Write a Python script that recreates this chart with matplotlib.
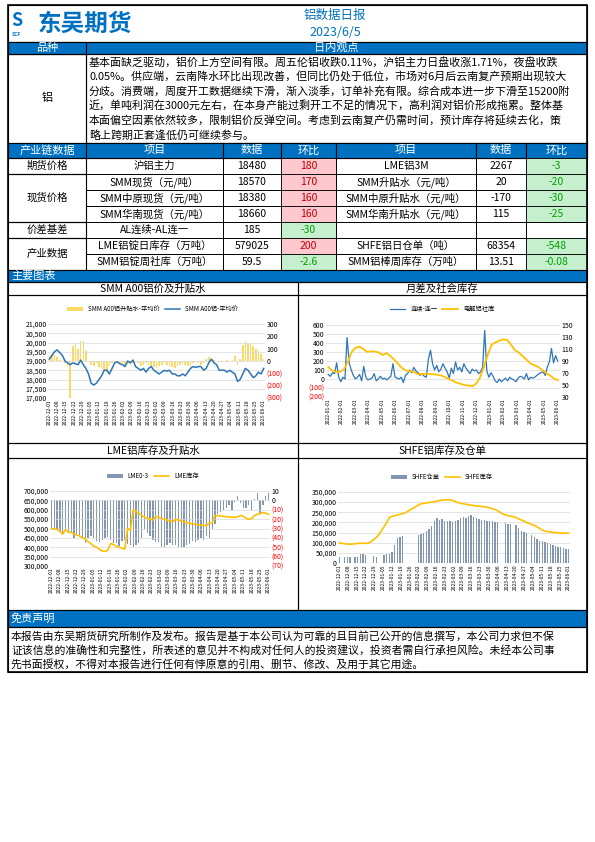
import numpy as np
import matplotlib
matplotlib.use("Agg")
import matplotlib.pyplot as plt
from matplotlib.patches import Rectangle

plt.rcParams['font.family'] = ['Noto Sans CJK SC', 'DejaVu Sans']

W, H = 595, 842
BLUE = '#0070C0'
fig = plt.figure(figsize=(W/100, H/100), dpi=100)

def fx(x): return x / W
def fy(y): return 1 - y / H

def rect(x0, y0, x1, y1, fc='none', ec='black', lw=0.8, z=1):
    fig.add_artist(Rectangle((fx(x0), fy(y1)), fx(x1) - fx(x0), fy(y0) - fy(y1),
                             transform=fig.transFigure, fc=fc, ec=ec, lw=lw, zorder=z))

def txt(x, y, s, size=7, color='black', ha='center', va='center', **kw):
    fig.text(fx(x), fy(y), s, fontsize=size, color=color, ha=ha, va=va, **kw)

# ---------------- data ----------------
report_title = "铝数据日报"
report_date = "2023/6/5"
view_text = ["基本面缺乏驱动，铝价上方空间有限。周五伦铝收跌0.11%，沪铝主力日盘收涨1.71%，夜盘收跌",
             "0.05%。供应端，云南降水环比出现改善，但同比仍处于低位，市场对6月后云南复产预期出现较大",
             "分歧。消费端，周度开工数据继续下滑，渐入淡季，订单补充有限。综合成本进一步下滑至15200附",
             "近，单吨利润在3000元左右，在本身产能过剩开工不足的情况下，高利润对铝价形成拖累。整体基",
             "本面偏空因素依然较多，限制铝价反弹空间。考虑到云南复产仍需时间，预计库存将延续去化，策",
             "略上跨期正套逢低仍可继续参与。"]
table_header = ["产业链数据", "项目", "数据", "环比", "项目", "数据", "环比"]
row_groups = ["期货价格", "现货价格", "价差基差", "产业数据"]
left_items = ["沪铝主力", "SMM现货（元/吨）", "SMM中原现货（元/吨）", "SMM华南现货（元/吨）",
              "AL连续-AL连一", "LME铝锭日库存（万吨）", "SMM铝锭周社库（万吨）"]
left_vals = ["18480", "18570", "18380", "18660", "185", "579025", "59.5"]
left_chg = [180, 170, 160, 160, -30, 200, -2.6]
right_items = ["LME铝3M", "SMM升贴水（元/吨）", "SMM中原升贴水（元/吨）", "SMM华南升贴水（元/吨）",
               "", "SHFE铝日仓单（吨）", "SMM铝棒周库存（万吨）"]
right_vals = ["2267", "20", "-170", "115", "", "68354", "13.51"]
right_chg = [-3, -20, -30, -25, None, -548, -0.08]
disclaimer = ["本报告由东吴期货研究所制作及发布。报告是基于本公司认为可靠的且目前已公开的信息撰写，本公司力求但不保",
              "证该信息的准确性和完整性，所表述的意见并不构成对任何人的投资建议，投资者需自行承担风险。未经本公司事",
              "先书面授权，不得对本报告进行任何有悖原意的引用、删节、修改、及用于其它用途。"]

weekly_labels = ["2022-12-01", "2022-12-08", "2022-12-15", "2022-12-22", "2022-12-29", "2023-01-05",
                 "2023-01-12", "2023-01-19", "2023-01-26", "2023-02-02", "2023-02-09", "2023-02-16",
                 "2023-02-23", "2023-03-02", "2023-03-09", "2023-03-16", "2023-03-23", "2023-03-30",
                 "2023-04-06", "2023-04-13", "2023-04-20", "2023-04-27", "2023-05-04", "2023-05-11",
                 "2023-05-18", "2023-05-25", "2023-06-01"]
monthly_labels = ["2022-01-01", "2022-02-01", "2022-03-01", "2022-04-01", "2022-05-01", "2022-06-01",
                  "2022-07-01", "2022-08-01", "2022-09-01", "2022-10-01", "2022-11-01", "2022-12-01",
                  "2023-01-01", "2023-02-01", "2023-03-01", "2023-04-01", "2023-05-01", "2023-06-01"]

smm_price = [19100, 19300, 19500, 19600, 19450, 19300, 19000, 18900, 18800, 18900, 18850, 18800, 19050,
             18800, 18600, 18300, 17800, 17700, 17800, 18000, 18200, 18500, 18500, 18300, 18600, 18900,
             18950, 18850, 18800, 18700, 19000, 18900, 19050, 18700, 18600, 18500, 18600, 18400, 18600,
             18700, 18500, 18400, 18300, 18400, 18500, 18450, 18500, 18300, 18300, 18200, 18200, 18300,
             18200, 18400, 18600, 18700, 18650, 18700, 18700, 18500, 18600, 18900, 19100, 18900, 18800,
             18500, 18500, 18500, 18400, 18500, 18400, 18300, 17900, 18000, 18300, 18600, 18500, 18300,
             18100, 18200, 18400, 18300, 18600]
smm_premium = [40, 60, 50, 30, 10, 0, -20, -40, -300, 120, 150, 100, 160, 160, 80, -10, -30, -40, -20, -50,
               -60, -80, -90, -40, -20, -10, -10, -20, -30, -40, -20, -30, -20, -10, -20, -40, -30, -20,
               -30, -40, -50, -60, -40, -30, -20, -30, -40, -50, -60, -40, -30, -20, -30, -40, -50, -20,
               -10, -20, -30, -20, 20, 30, 20, 10, 0, -10, -10, 0, 10, -10, 10, 40, -30, 20, 130, 160, 150,
               140, 120, 100, 80, 60, 20]

spread = [50, 30, 70, 60, 180, 20, -30, 20, 0, 460, 180, 100, 40, 0, 20, 50, -20, 140, 20, -10, 0, 10, 60,
          -20, 0, 30, 0, 10, -10, 10, 30, 170, 20, 10, 0, 20, -40, 40, 60, 100, 70, 130, 90, 70, 40, 60, 30,
          20, 220, 320, 170, 100, 150, 80, 110, 170, 120, 80, 10, 120, 60, 190, 100, 130, 80, 170, 120, 90,
          60, 110, 90, 100, 60, 80, 130, 540, 90, 20, 70, 30, -20, -40, 0, -30, -10, 10, -20, 20, 0, -10,
          -30, 10, 30, 20, 0, 60, -10, 20, 10, 20, 40, 60, 70, 80, 40, 130, 190, 340, 180, 260, 200]
social_inv = [80, 74, 72, 72, 76, 88, 105, 112, 114, 110, 105, 106, 106, 104, 100, 103, 98, 92, 85, 78, 74,
              73, 72, 68, 68, 69, 68, 68, 67, 66, 63, 60, 57, 54, 52, 50, 49, 48, 52, 62, 80, 100, 117, 121,
              124, 126, 125, 117, 108, 104, 98, 92, 86, 83, 80, 75, 70, 66, 61, 58]

lme_spread = [-30, -30, -31, -33, -35, -30, -35, -35, -40, -36, -37, -40, -45, -40, -38, -40, -43, -44,
              -42, -40, -39, -42, -45, -45, -49, -43, -42, -46, -48, -50, -48, -45, -40, -30, -35, -38, -42,
              -44, -44, -50, -50, -48, -45, -48, -48, -50, -50, -50, -48, -46, -43, -44, -42, -40, -42, -38,
              -40, -30, -25, -15, -12, -10, -8, -5, -10, -2, 5, -3, -8, -8, -5, -10, 2, 8, -15, -5, 5, 8]
lme_stock = [500000, 498000, 495000, 485000, 470000, 495000, 480000, 480000, 470000, 465000, 460000, 450000,
             445000, 430000, 420000, 405000, 400000, 390000, 380000, 378000, 385000, 420000, 415000, 405000,
             400000, 395000, 390000, 500000, 490000, 600000, 590000, 580000, 570000, 560000, 555000, 550000,
             545000, 565000, 560000, 555000, 550000, 545000, 540000, 535000, 550000, 545000, 540000, 535000,
             530000, 528000, 525000, 522000, 520000, 518000, 516000, 515000, 530000, 530000, 570000, 568000,
             568000, 565000, 563000, 562000, 560000, 560000, 562000, 570000, 565000, 555000, 550000, 552000,
             570000, 575000, 580000, 585000, 582000, 575000]

shfe_warrant = [32000, np.nan, 30000, 30000, 30000, np.nan, 32000, 30000, 45000, 45000, 40000, np.nan,
                np.nan, 33000, 30000, np.nan, np.nan, 40000, 45000, 45000, 55000, 90000, 125000, 130000,
                135000, np.nan, np.nan, np.nan, np.nan, np.nan, 140000, 145000, 150000, 160000, 170000,
                180000, 205000, 220000, 210000, 218000, 205000, 205000, 205000, 203000, 205000, 210000,
                220000, 225000, 220000, 230000, 235000, 225000, 220000, 215000, 210000, 210000, 208000,
                207000, 205000, 203000, 200000, np.nan, np.nan, 195000, 193000, 190000, np.nan, 185000,
                175000, 160000, 155000, 150000, np.nan, 140000, 130000, 120000, 110000, 110000, 105000,
                100000, 95000, 90000, 85000, 80000, 78000, 72000, 70000, 68354]
shfe_stock = [100000, 97000, 95000, 93000, 93000, 93000, 95000, 97000, 97000, 97000, 97000, 98000, 105000,
              115000, 125000, 140000, 160000, 180000, 200000, 225000, 230000, 233000, 236000, 240000, 243000,
              247000, 255000, 263000, 270000, 278000, 285000, 292000, 294000, 296000, 298000, 300000, 302000,
              305000, 308000, 310000, 311000, 311000, 311000, 308000, 303000, 298000, 294000, 292000, 290000,
              287000, 285000, 283000, 281000, 280000, 279000, 277000, 275000, 272000, 268000, 264000, 258000,
              250000, 242000, 237000, 234000, 231000, 228000, 224000, 218000, 212000, 207000, 200000, 195000,
              190000, 185000, 178000, 170000, 162000, 157000, 155000, 153000, 151000, 150000, 149000, 148000,
              148000, 147000, 147000]

# ---------------- frame / header ----------------
rect(8, 5, 587, 672, lw=1.2, z=5)
rect(8, 5, 587, 42, lw=0.8)
txt(38, 24, "东吴期货", size=17, color=BLUE, ha='left', weight='bold')
txt(11, 21, "S", size=13, color=BLUE, ha='left', weight='bold', style='italic')
txt(12, 34, "SCF", size=3.5, color=BLUE, ha='left', weight='bold')
txt(335, 15, report_title, size=9, color=BLUE)
txt(335, 32, report_date, size=9, color=BLUE)

rect(8, 42, 587, 54, fc=BLUE, lw=0.8)
rect(8, 42, 86, 54, fc=BLUE, lw=0.8)
txt(47, 48, "品种", size=8, color='white')
txt(336, 48, "日内观点", size=8, color='white')
rect(8, 54, 86, 143)
rect(86, 54, 587, 143)
txt(47, 98, "铝", size=8)
for i, line in enumerate(view_text):
    txt(89, 62 + i * 14.6, line, size=7.9, ha='left')

# ---------------- table ----------------
cols = [8, 86, 223, 281, 336, 476, 526, 587]
rect(8, 143, 587, 158, fc=BLUE)
for i, h in enumerate(table_header):
    txt((cols[i] + cols[i + 1]) / 2, 150.5, h, size=8, color='white')
    if i > 0:
        rect(cols[i], 143, cols[i + 1], 158, fc=BLUE)
row_h = 16
row_top = 158
group_rows = [(0, 1), (1, 4), (4, 5), (5, 7)]
for g, (a, b) in zip(row_groups, group_rows):
    rect(8, row_top + a * row_h, 86, row_top + b * row_h)
    txt(47, row_top + (a + b) / 2 * row_h, g, size=7.5)
RED_BG, RED_FG, GRN_BG, GRN_FG = '#FFC7CE', '#C00000', '#C6EFCE', '#00A000'
for r in range(7):
    y0 = row_top + r * row_h
    y1 = y0 + row_h
    yc = (y0 + y1) / 2
    vals = [left_items[r], left_vals[r], left_chg[r], right_items[r], right_vals[r], right_chg[r]]
    for c in range(6):
        x0, x1 = cols[c + 1], cols[c + 2]
        v = vals[c]
        if c in (2, 5) and v is not None:
            up = v > 0
            rect(x0, y0, x1, y1, fc=RED_BG if up else GRN_BG, ec='black', lw=0.6)
            txt((x0 + x1) / 2, yc, f"{v:g}", size=7.5, color=RED_FG if up else GRN_FG)
        else:
            rect(x0, y0, x1, y1, lw=0.6)
            if v:
                txt((x0 + x1) / 2, yc, v, size=7.5)

# ---------------- charts section ----------------
rect(8, 270, 587, 282, fc=BLUE)
txt(11, 276, "主要图表", size=8, color='white', ha='left')
for (x0, x1) in [(8, 298), (298, 587)]:
    rect(x0, 282, x1, 295)
    rect(x0, 295, x1, 443)
    rect(x0, 443, x1, 458)
    rect(x0, 458, x1, 610)
txt(153, 288.5, "SMM A00铝价及升贴水", size=7.5)
txt(442, 288.5, "月差及社会库存", size=7.5)
txt(153, 450.5, "LME铝库存及升贴水", size=7.5)
txt(442, 450.5, "SHFE铝库存及仓单", size=7.5)

YEL = '#FFC000'
LBLUE = '#2E75B6'

def make_ax(l, t, r, b):
    ax = fig.add_axes([fx(l), fy(b), fx(r) - fx(l), fy(t) - fy(b)])
    for s in ax.spines.values():
        s.set_visible(False)
    ax.tick_params(length=0, labelsize=5, pad=1)
    ax.grid(axis='y', color='#D9D9D9', lw=0.5)
    ax.set_axisbelow(True)
    return ax

def set_dates(ax, n, labels):
    ax.set_xticks(np.linspace(0, n - 1, len(labels)))
    ax.set_xticklabels(labels, rotation=90, fontsize=3.6)
    ax.set_xlim(-0.5, n - 0.5)

def fmt_paren(v):
    return f"({abs(int(v))})" if v < 0 else f"{int(v)}"

def right_red(ax2, ticks):
    ax2.set_yticks(ticks)
    ax2.set_yticklabels([fmt_paren(t) for t in ticks])
    for lab, t in zip(ax2.get_yticklabels(), ticks):
        if t < 0:
            lab.set_color('red')

# Chart 1
ax = make_ax(48, 324, 265, 398)
n = len(smm_price)
x = np.arange(n)
ax2 = ax.twinx()
ax2.bar(x, smm_premium, color='#FFD966', width=0.6, label='SMM A00铝升贴水-平均价')
ax2.set_ylim(-300, 300)
right_red(ax2, [300, 200, 100, 0, -100, -200, -300])
ax2.tick_params(length=0, labelsize=5, pad=1)
for s in ax2.spines.values():
    s.set_visible(False)
ax.set_zorder(ax2.get_zorder() + 1); ax.patch.set_visible(False)
ax.plot(x, smm_price, color=LBLUE, lw=1.1, label='SMM A00铝-平均价')
ax.set_ylim(17000, 21000)
ax.set_yticks(range(17000, 21001, 500))
ax.set_yticklabels([f"{v:,}" for v in range(17000, 21001, 500)])
set_dates(ax, n, weekly_labels)
h1, l1 = ax2.get_legend_handles_labels(); h2, l2 = ax.get_legend_handles_labels()
fig.legend(h1 + h2, l1 + l2, loc='center', bbox_to_anchor=(fx(153), fy(309)), ncol=2, fontsize=4.5,
           frameon=False, handlelength=2.5, columnspacing=0.8)

# Chart 2
ax = make_ax(326, 325, 560, 397)
xs = np.linspace(0, 1, len(spread))
xi = np.linspace(0, 1, len(social_inv))
ax.plot(xs, spread, color=LBLUE, lw=0.9, label='连续-连一')
ax.set_ylim(-200, 600)
ax.set_yticks(range(-200, 601, 100))
ax.set_yticklabels([fmt_paren(t) for t in range(-200, 601, 100)])
for lab, t in zip(ax.get_yticklabels(), range(-200, 601, 100)):
    if t < 0: lab.set_color('red')
ax2 = ax.twinx()
ax2.plot(xi, social_inv, color=YEL, lw=1.3, label='电解铝社库')
ax2.set_ylim(30, 150)
ax2.set_yticks(range(30, 151, 20))
ax2.tick_params(length=0, labelsize=5, pad=1)
for s in ax2.spines.values():
    s.set_visible(False)
ax.set_xticks(np.linspace(0, 1, len(monthly_labels)))
ax.set_xticklabels(monthly_labels, rotation=90, fontsize=3.6)
ax.set_xlim(-0.01, 1.01)
h1, l1 = ax.get_legend_handles_labels(); h2, l2 = ax2.get_legend_handles_labels()
fig.legend(h1 + h2, l1 + l2, loc='center', bbox_to_anchor=(fx(442), fy(309)), ncol=2, fontsize=4.5,
           frameon=False, handlelength=2.5, columnspacing=0.8)

# Chart 3
ax = make_ax(50, 491, 270, 566)
n = len(lme_spread)
x = np.arange(n)
ax2 = ax.twinx()
ax2.bar(x, lme_spread, color='#8497B0', width=0.45, label='LME0-3')
ax2.set_ylim(-70, 10)
right_red(ax2, [10, 0, -10, -20, -30, -40, -50, -60, -70])
ax2.tick_params(length=0, labelsize=5, pad=1)
for s in ax2.spines.values():
    s.set_visible(False)
ax.set_zorder(ax2.get_zorder() + 1); ax.patch.set_visible(False)
ax.plot(x, lme_stock, color=YEL, lw=1.2, label='LME库存')
ax.set_ylim(300000, 700000)
ax.set_yticks(range(300000, 700001, 50000))
ax.set_yticklabels([f"{v:,}" for v in range(300000, 700001, 50000)])
set_dates(ax, n, weekly_labels)
h1, l1 = ax2.get_legend_handles_labels(); h2, l2 = ax.get_legend_handles_labels()
fig.legend(h1 + h2, l1 + l2, loc='center', bbox_to_anchor=(fx(153), fy(476)), ncol=2, fontsize=4.5,
           frameon=False, handlelength=2.5, columnspacing=0.8)

# Chart 4
ax = make_ax(338, 492, 570, 563)
n = len(shfe_warrant)
x = np.arange(n)
bars = ax.bar(x, shfe_warrant, color='#8497B0', width=0.5, label='SHFE仓单')
line, = ax.plot(np.linspace(0, n - 1, len(shfe_stock)), shfe_stock, color=YEL, lw=1.2, label='SHFE库存')
ax.set_ylim(0, 350000)
ax.set_yticks(range(0, 350001, 50000))
ax.set_yticklabels(["0"] + [f"{v:,}" for v in range(50000, 350001, 50000)])
set_dates(ax, n, weekly_labels)
fig.legend([bars, line], ['SHFE仓单', 'SHFE库存'], loc='center', bbox_to_anchor=(fx(442), fy(477)), ncol=2,
           fontsize=4.5, frameon=False, handlelength=2.5, columnspacing=0.8)

# ---------------- disclaimer ----------------
rect(8, 610, 587, 627, fc=BLUE)
txt(11, 618.5, "免责声明", size=8, color='white', ha='left')
rect(8, 627, 587, 672)
for i, line in enumerate(disclaimer):
    txt(11, 636 + i * 14, line, size=7.8, ha='left')

fig.savefig("out.png", dpi=100)
